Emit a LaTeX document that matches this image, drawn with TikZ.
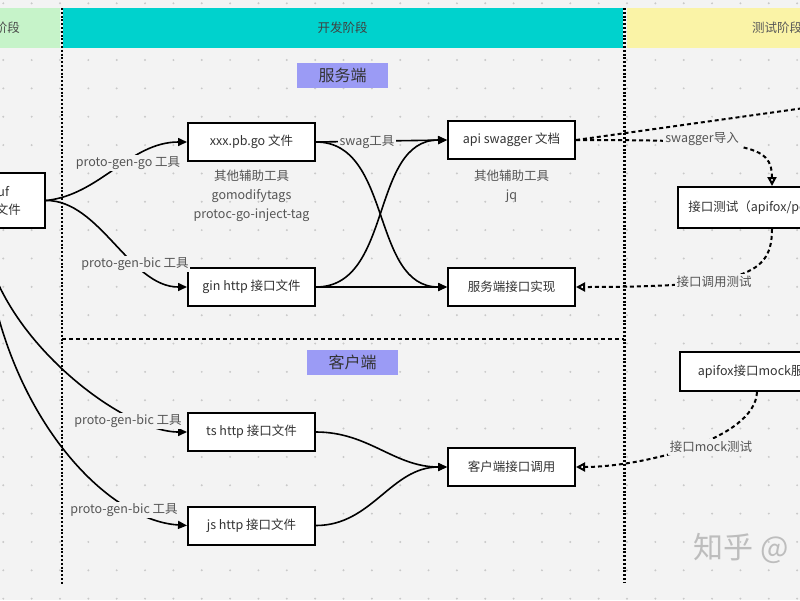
\documentclass[tikz,border=0pt]{standalone}
\usepackage{fontspec}
\setmainfont{Noto Sans CJK SC}
\usetikzlibrary{arrows.meta}
\definecolor{bg}{HTML}{F3F3F3}
\definecolor{griddot}{HTML}{C9C9C9}
\definecolor{hgreen}{HTML}{C6F3C9}
\definecolor{hcyan}{HTML}{00D2CD}
\definecolor{hyellow}{HTML}{FAF3A6}
\definecolor{tagpurple}{HTML}{9B9BF5}
\definecolor{txt}{HTML}{333333}
\definecolor{lbl}{HTML}{555555}
\definecolor{wm}{HTML}{BDBDBD}
\begin{document}
\begin{tikzpicture}[x=1pt,y=-1pt,
  box/.style={draw=black, line width=2pt, fill=white, minimum width=127pt, minimum height=38pt, inner sep=0pt, font=\fontsize{12.5}{15}\selectfont, text=txt},
  lab/.style={fill=bg, inner sep=1.5pt, font=\fontsize{12.5}{15}\selectfont, text=lbl},
  note/.style={font=\fontsize{12.5}{19}\selectfont, text=lbl, align=center},
  bandtext/.style={font=\fontsize{12.5}{15}\selectfont},
  tag/.style={fill=tagpurple, minimum width=91pt, minimum height=25pt, inner sep=0pt, font=\fontsize{16}{18}\selectfont, text=txt},
  flow/.style={line width=1.6pt, -{Triangle[length=9pt,width=8pt]}},
  dline/.style={line width=2pt, dash pattern=on 4pt off 3pt},
  dflow/.style={dline, -{Triangle[open,length=9pt,width=9pt,fill=white]}},
  sepline/.style={line width=2.4pt, dash pattern=on 2pt off 1.8pt},
  hsep/.style={line width=1.6pt, dash pattern=on 4pt off 3pt},
]
\useasboundingbox (0,0) rectangle (800,600);
\clip (0,0) rectangle (800,600);
\fill[bg] (0,0) rectangle (800,600);
\foreach \i in {0,...,28} \foreach \j in {0,...,21}
  \fill[griddot] (3.3+28.35*\i, 3.3+28.35*\j) circle (1.1pt);

% header bands
\fill[hgreen] (-60,8) rectangle (60,48);
\node[bandtext, text=black!70] (design) at (-5,28) {设计阶段};
\fill[hcyan] (63,8) rectangle (622.5,48);
\node[bandtext, text=black!75] (dev) at (342.5,28) {开发阶段};
\fill[hyellow] (626.5,8) rectangle (930,48);
\node[bandtext, text=black!65] (testph) at (777,28) {测试阶段};

% separators
\draw[sepline] (62,8) -- (62,585);
\draw[sepline] (624.5,8) -- (624.5,583);
\draw[hsep] (62,339) -- (624,339);

% tags
\node[tag] (srv) at (342.5,75) {服务端};
\node[tag] (cli) at (352.5,362.5) {客户端};

% boxes
\node[box, minimum width=123pt, minimum height=55pt, align=center, font=\fontsize{12.5}{18}\selectfont] (pb) at (-16.5,200.5) {protobuf\\接口定义文件};
\node[box] (pbgo) at (251.5,142) {xxx.pb.go 文件};
\node[box] (gin) at (251.5,287) {gin http 接口文件};
\node[box] (api) at (511.5,140) {api swagger 文档};
\node[box] (impl) at (511.5,287) {服务端接口实现};
\node[box] (ts) at (251.5,432) {ts http 接口文件};
\node[box] (js) at (251.5,525.5) {js http 接口文件};
\node[box] (call) at (511.5,467) {客户端接口调用};
\node[box, minimum width=188pt, minimum height=41pt] (apitest) at (772,207.5) {接口测试（apifox/postman）};
\node[box, minimum width=154pt, minimum height=39pt] (mock) at (757,371.5) {apifox接口mock服务};

% notes
\node[note] (n1) at (251.5,196) {其他辅助工具\\gomodifytags\\protoc-go-inject-tag};
\node[note] (n2) at (511.5,186) {其他辅助工具\\jq};

% generation from protobuf
\draw[flow] (pb.east) .. controls (100,195) and (130,142) .. (pbgo.west);
\node[lab] (l1) at (128,163) {proto-gen-go 工具};
\draw[flow] (pb.east) .. controls (100,200) and (130,287) .. (gin.west);
\node[lab] (l2) at (135,264) {proto-gen-bic 工具};
\draw[flow] (pb.south) .. controls (-10,330) and (120,432) .. (ts.west);
\node[lab] (l3) at (128,421) {proto-gen-bic 工具};
\draw[flow] (pb.south) .. controls (-5,400) and (100,520) .. (js.west);
\node[lab] (l4) at (124,510) {proto-gen-bic 工具};

% server side
\draw[flow] (pbgo.east) -- (api.west);
\node[lab] (l5) at (367,142) {swag工具};
\draw[flow] (pbgo.east) to[out=0,in=180] (impl.west);
\draw[flow] (gin.east) to[out=0,in=180] (api.west);
\draw[flow] (gin.east) -- (impl.west);

% client side
\draw[flow] (ts.east) to[out=0,in=180] (call.west);
\draw[flow] (js.east) to[out=0,in=180] (call.west);

% test phase
\coordinate (offr) at (840,103);
\draw[dline] (api.east) -- (offr);
\draw[dflow] (api.east) .. controls (750,140) and (772,145) .. (apitest.north);
\node[lab, inner sep=2pt] (l6) at (702,139) {swagger导入};
\draw[dflow] (apitest.south) .. controls (772,275) and (745,287) .. (impl.east);
\node[lab, inner sep=2pt] (l7) at (714,282) {接口调用测试};
\draw[dflow] (mock.south) .. controls (755,440) and (640,467) .. (call.east);
\node[lab, inner sep=2pt] (l8) at (711,447) {接口mock测试};

% watermark
\node[anchor=west, text=wm, font=\fontsize{30}{30}\selectfont] (wmk) at (690,548) {知乎 @};
\end{tikzpicture}
\end{document}
